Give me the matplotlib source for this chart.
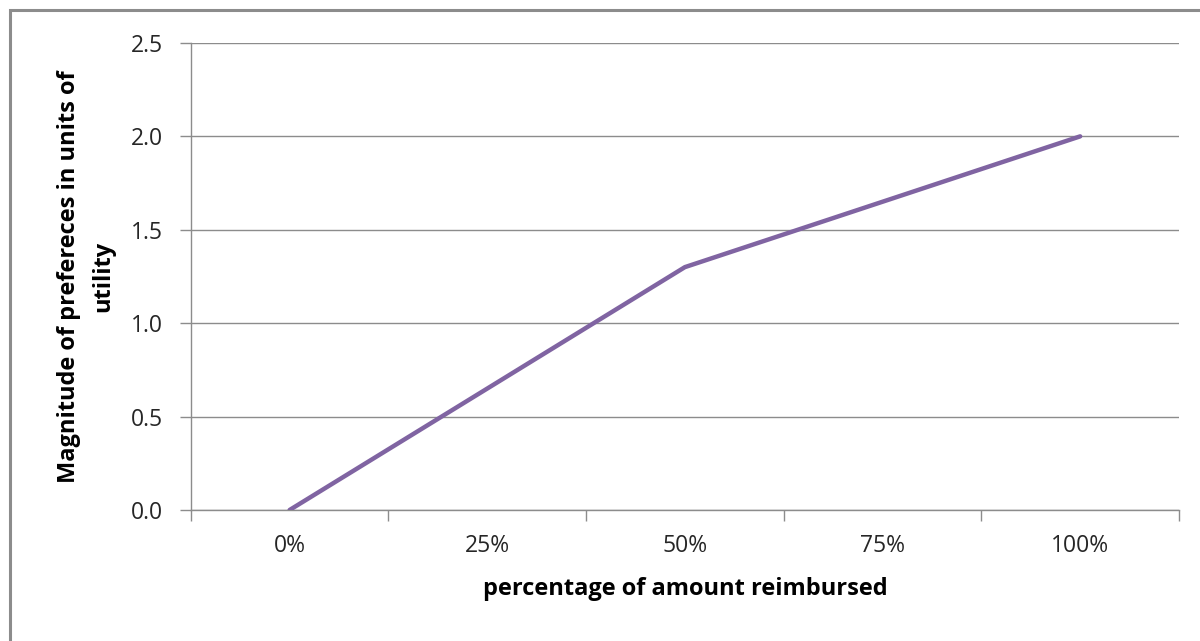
import matplotlib.pyplot as plt
from matplotlib.patches import Rectangle

categories = ['0%', '25%', '50%', '75%', '100%']
utility = [0.0, 0.65, 1.3, 1.65, 2.0]
y_ticks = [0.0, 0.5, 1.0, 1.5, 2.0, 2.5]

plt.rcParams['font.family'] = ['Open Sans', 'DejaVu Sans']

fig = plt.figure(figsize=(12, 6.41), dpi=100)
ax = fig.add_axes([0.159, 0.2044, 0.8235, 0.7286])

# outer chart frame
fig.patches.append(Rectangle((10 / 1200, -0.1), 1.2, 1 - 10 / 641 + 0.1,
                             transform=fig.transFigure, fill=False,
                             edgecolor='#8c8c8c', linewidth=2.2))

x = list(range(len(categories)))
ax.plot(x, utility, color='#8064A2', linewidth=3.2, solid_capstyle='round', zorder=3)

ax.set_xlim(-0.5, len(categories) - 0.5)
ax.set_ylim(0, 2.5)
ax.set_yticks(y_ticks)
ax.set_yticklabels([f'{v:.1f}' for v in y_ticks])
ax.set_xticks(x)
ax.set_xticklabels(categories)
ax.set_xticks([i - 0.5 for i in range(len(categories) + 1)], minor=True)

ax.grid(axis='y', color='#8c8c8c', linewidth=1)
ax.set_axisbelow(True)
for side in ['top', 'right']:
    ax.spines[side].set_visible(False)
for side in ['left', 'bottom']:
    ax.spines[side].set_color('#8c8c8c')
    ax.spines[side].set_linewidth(1)

ax.tick_params(axis='x', which='major', length=0, pad=17, labelsize=16.5, colors='#262626')
ax.tick_params(axis='x', which='minor', length=8, color='#8c8c8c', width=1)
ax.tick_params(axis='y', length=8, color='#8c8c8c', width=1, pad=12, labelsize=16.5,
               labelcolor='#262626')

ax.set_xlabel('percentage of amount reimbursed', fontsize=17, fontweight='bold', labelpad=14)
ax.set_ylabel('Magnitude of prefereces in units of\nutility', fontsize=17,
              fontweight='bold', labelpad=11.5, linespacing=1.55)

fig.savefig('out.png', dpi=100)
